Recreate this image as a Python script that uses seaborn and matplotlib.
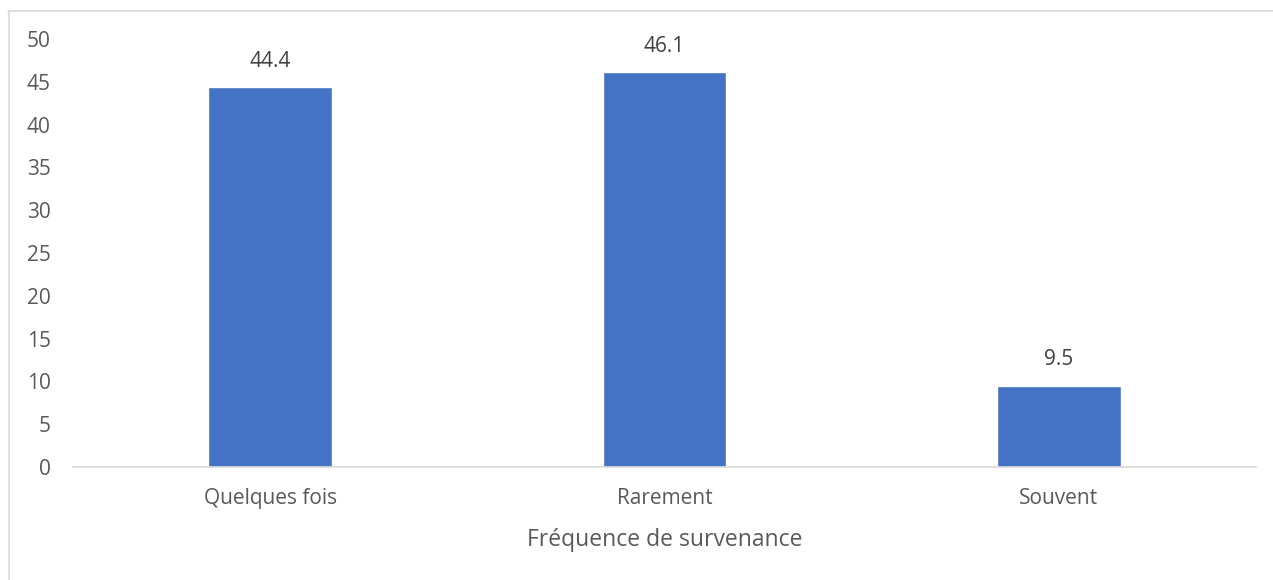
import matplotlib
matplotlib.use("Agg")
import matplotlib.pyplot as plt
import seaborn as sns
from matplotlib.lines import Line2D

# Data
categories = ["Quelques fois", "Rarement", "Souvent"]
values = [44.4, 46.1, 9.5]
y_ticks = [0, 5, 10, 15, 20, 25, 30, 35, 40, 45, 50]

sns.set_theme(style="white")
plt.rcParams["font.family"] = ["Open Sans", "DejaVu Sans"]

text_color = "#595959"

fig = plt.figure(figsize=(12.73, 5.80), dpi=100)
ax = fig.add_axes([73 / 1273, 113 / 580, (1256 - 73) / 1273, (467 - 39) / 580])

sns.barplot(x=categories, y=values, color="#4472C4", saturation=1,
            width=0.314, ax=ax)

ax.set_xlim(-0.5, 2.5)
ax.set_ylim(0, 50)
ax.set_yticks(y_ticks)
ax.set_yticklabels([str(t) for t in y_ticks])

for c in ax.containers:
    ax.bar_label(c, fmt="%.1f", padding=11, fontsize=15, color="#404040")

for s in ["top", "right", "left"]:
    ax.spines[s].set_visible(False)
ax.spines["bottom"].set_color("#D9D9D9")
ax.spines["bottom"].set_linewidth(1.2)

ax.tick_params(axis="y", length=0, pad=16, labelsize=15, labelcolor=text_color)
ax.tick_params(axis="x", length=0, pad=15, labelsize=15, labelcolor=text_color)
ax.set_xlabel("Fréquence de survenance", fontsize=16.5, color=text_color, labelpad=14)
ax.set_ylabel("")

# outer chart border (top and left visible)
fig.add_artist(Line2D([8 / 1273, 1.0], [1 - 10.5 / 580, 1 - 10.5 / 580],
                      transform=fig.transFigure, color="#D9D9D9", lw=1.2))
fig.add_artist(Line2D([8.5 / 1273, 8.5 / 1273], [0, 1 - 10.5 / 580],
                      transform=fig.transFigure, color="#D9D9D9", lw=1.2))

fig.savefig("out.png", dpi=100)
